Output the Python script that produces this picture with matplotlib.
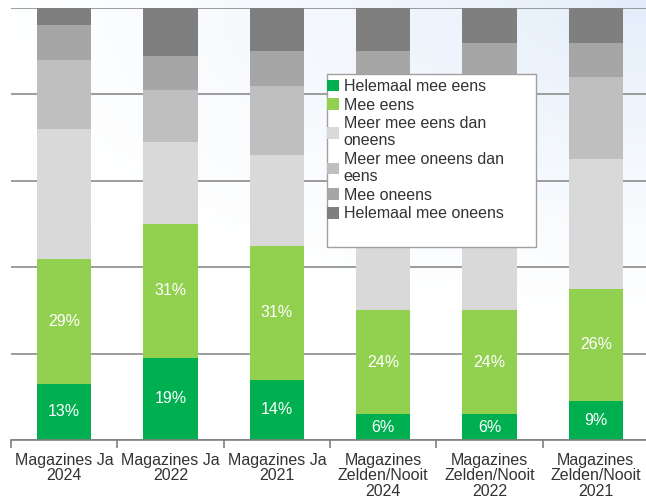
import matplotlib.pyplot as plt
from matplotlib.patches import Rectangle
import numpy as np

plt.rcParams['font.family'] = ['Liberation Sans', 'DejaVu Sans']

categories = ['Magazines Ja\n2024', 'Magazines Ja\n2022', 'Magazines Ja\n2021',
              'Magazines\nZelden/Nooit\n2024', 'Magazines\nZelden/Nooit\n2022',
              'Magazines\nZelden/Nooit\n2021']

# percentages, bottom to top
helemaal_eens = [13, 19, 14, 6, 6, 9]
mee_eens = [29, 31, 31, 24, 24, 26]
meer_eens = [30, 19, 21, 34, 36, 30]
meer_oneens = [16, 12, 16, 17, 17, 19]
mee_oneens = [8, 8, 8, 9, 9, 8]
helemaal_oneens = [4, 11, 10, 10, 8, 8]

series = [
    ('Helemaal mee eens', helemaal_eens, '#00b050'),
    ('Mee eens', mee_eens, '#92d050'),
    ('Meer mee eens dan\noneens', meer_eens, '#d9d9d9'),
    ('Meer mee oneens dan\neens', meer_oneens, '#bfbfbf'),
    ('Mee oneens', mee_oneens, '#a6a6a6'),
    ('Helemaal mee oneens', helemaal_oneens, '#7f7f7f'),
]

W, H = 646, 503
fig = plt.figure(figsize=(W / 100, H / 100), dpi=100)

# faint bluish tint towards the top right
bg = fig.add_axes([0, 0, 1, 1], zorder=-10)
yy, xx = np.mgrid[0:H, 0:W]
d = np.hypot((W - xx) / W, (yy) / H * 1.6)
t = np.clip(1 - d / 1.1, 0, 1) ** 1.5
base = np.array([1.0, 1.0, 1.0])
tint = np.array([0.89, 0.93, 0.98])
img = base[None, None, :] * (1 - t[..., None]) + tint[None, None, :] * t[..., None]
bg.imshow(img, aspect='auto', extent=(0, 1, 0, 1))
bg.axis('off')

ax = fig.add_axes([11 / W, 63 / H, 638 / W, 432 / H])
ax.set_facecolor('none')

x = np.arange(len(categories))
bottom = np.zeros(len(categories))
handles = []
for i, (name, vals, col) in enumerate(series):
    vals = np.array(vals, dtype=float)
    b = ax.bar(x, vals, 0.51, bottom=bottom, color=col, label=name, zorder=2)
    handles.append(b)
    if i < 2:
        for xi, v, bt in zip(x, vals, bottom):
            ax.text(xi, bt + v / 2, f'{int(v)}%', ha='center', va='center',
                    color='white', fontsize=11.5, zorder=3)
    bottom += vals

ax.set_xlim(-0.5, len(categories) - 0.5)
ax.set_ylim(0, 100)
ax.set_yticks([0, 20, 40, 60, 80, 100])
ax.yaxis.grid(True, color='#8c8c8c', lw=1.2, zorder=0)
ax.set_axisbelow(True)
ax.tick_params(axis='y', left=False, labelleft=False)

ax.set_xticks(x)
ax.set_xticklabels(categories, fontsize=11.5, color='#333333', linespacing=1.08)
ax.set_xticks(np.arange(-0.5, len(categories)), minor=True)
ax.tick_params(axis='x', which='major', length=0, pad=9)
ax.tick_params(axis='x', which='minor', length=6, color='#7f7f7f', width=1.2)

for s in ['top', 'right', 'left']:
    ax.spines[s].set_visible(False)
ax.spines['bottom'].set_color('#7f7f7f')
ax.spines['bottom'].set_linewidth(1.2)

# legend box (with some empty space at the bottom)
box = Rectangle((327 / W, 1 - 247 / H), (536 - 327) / W, (247 - 74) / H,
                transform=fig.transFigure, facecolor='white', edgecolor='#a0a0a0',
                lw=1, zorder=4)
fig.patches.append(box)
leg = fig.legend(handles=handles, loc='upper left',
                 bbox_to_anchor=(327 / W, 1 - 79 / H), frameon=False,
                 fontsize=11.5, handlelength=0.75, handleheight=0.75,
                 handletextpad=0.3, labelspacing=0.22, borderpad=0,
                 borderaxespad=0)
leg.set_zorder(5)
for t in leg.get_texts():
    t.set_color('#333333')
    t.set_linespacing(1.2)

fig.savefig('out.png', dpi=100, facecolor='white')
